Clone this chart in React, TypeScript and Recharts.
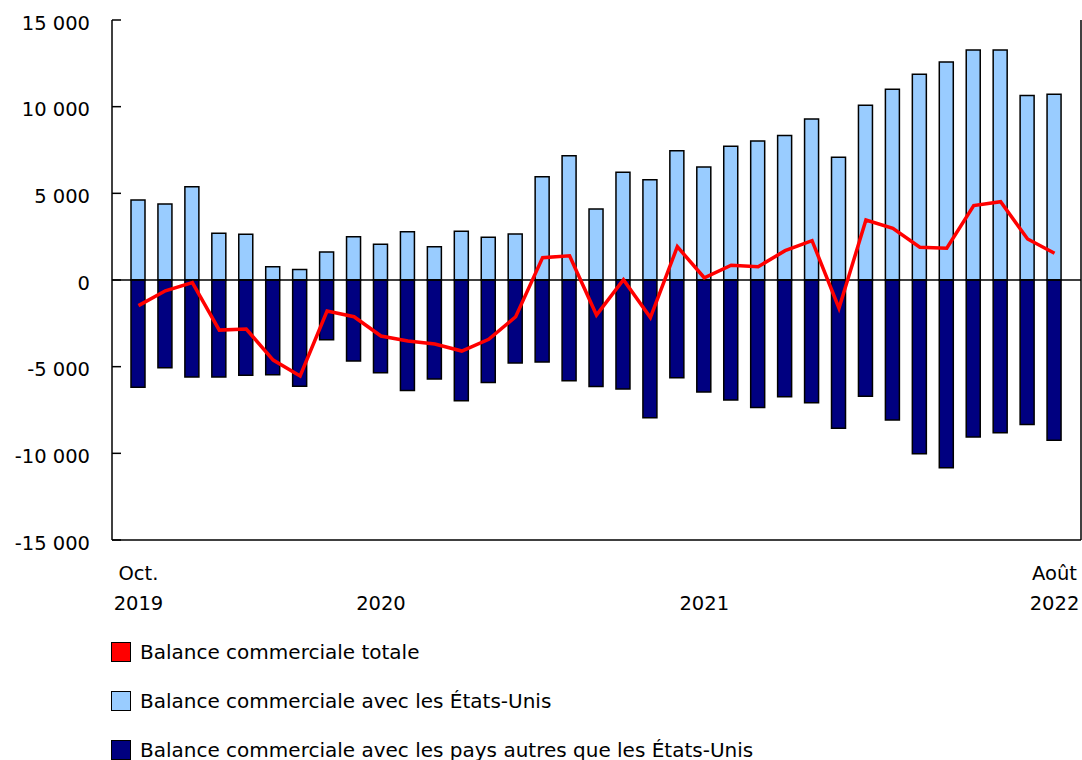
import React from 'react';
import { ComposedChart, Bar, Line, XAxis, YAxis, ReferenceLine, Legend } from 'recharts';

const months = [
  '2019-10', '2019-11', '2019-12',
  '2020-01', '2020-02', '2020-03', '2020-04', '2020-05', '2020-06',
  '2020-07', '2020-08', '2020-09', '2020-10', '2020-11', '2020-12',
  '2021-01', '2021-02', '2021-03', '2021-04', '2021-05', '2021-06',
  '2021-07', '2021-08', '2021-09', '2021-10', '2021-11', '2021-12',
  '2022-01', '2022-02', '2022-03', '2022-04', '2022-05', '2022-06',
  '2022-07', '2022-08',
];

const usBalance = [
  4620, 4390, 5380, 2690, 2640, 770, 600, 1620, 2500, 2060, 2790, 1920,
  2810, 2460, 2650, 5960, 7170, 4100, 6210, 5790, 7460, 6520, 7710, 8020,
  8330, 9290, 7080, 10080, 11000, 11870, 12580, 13270, 13270, 10640, 10710,
];

const otherBalance = [
  -6190, -5060, -5600, -5600, -5500, -5460, -6130, -3440, -4670, -5350, -6370, -5710,
  -6960, -5920, -4790, -4730, -5810, -6150, -6290, -7940, -5640, -6460, -6920, -7350,
  -6730, -7080, -8560, -6710, -8080, -10020, -10830, -9060, -8810, -8330, -9250,
];

const totalBalance = [
  -1480, -620, -150, -2890, -2830, -4620, -5540, -1790, -2120, -3230, -3520, -3690,
  -4100, -3420, -2120, 1290, 1400, -2020, 20, -2170, 1920, 130, 850, 770,
  1690, 2270, -1630, 3460, 2980, 1890, 1830, 4290, 4520, 2370, 1540,
];

const tickMonths = ['2019-10', '2020-07', '2021-07', '2022-08'];
const tickLine1 = ['Oct.', '', '', 'Août'];
const tickLine2 = ['2019', '2020', '2021', '2022'];

const yTicks = [-15000, -10000, -5000, 0, 5000, 10000, 15000];

const legendItems = [
  { label: 'Balance commerciale totale', color: '#ff0000' },
  { label: 'Balance commerciale avec les États-Unis', color: '#99ccff' },
  { label: 'Balance commerciale avec les pays autres que les États-Unis', color: '#000080' },
];

const data = months.map((m, i) => ({
  month: m,
  us: usBalance[i],
  other: otherBalance[i],
  total: totalBalance[i],
}));

const FONT = '"DejaVu Sans", Verdana, sans-serif';
const FS = 19.5;

const fmt = (v: number) => {
  const s = String(Math.abs(v));
  const body = s.length > 3 ? s.slice(0, s.length - 3) + ' ' + s.slice(-3) : s;
  return (v < 0 ? '-' : '') + body;
};

const YTick = ({ x, y, payload }: any) => (
  <g>
    <line x1={x} x2={x + 9} y1={y} y2={y} stroke="#000" strokeWidth={1.5} />
    <text x={x - 22} y={y + 3} dy="0.35em" textAnchor="end" fontSize={FS} fill="#000" fontFamily={FONT}>
      {fmt(payload.value)}
    </text>
  </g>
);

const XTick = ({ x, y, payload }: any) => {
  const k = tickMonths.indexOf(payload.value);
  if (k < 0) return null;
  return (
    <g>
      <text x={x} y={y + 33} dy="0.35em" textAnchor="middle" fontSize={FS} fill="#000" fontFamily={FONT}>
        {tickLine1[k]}
      </text>
      <text x={x} y={y + 63} dy="0.35em" textAnchor="middle" fontSize={FS} fill="#000" fontFamily={FONT}>
        {tickLine2[k]}
      </text>
    </g>
  );
};

const LegendBox = () => (
  <div style={{ height: 140, paddingTop: 7, boxSizing: 'border-box', fontFamily: FONT, fontSize: 20 }}>
    {legendItems.map((it) => (
      <div key={it.label} style={{ height: 49, display: 'flex', alignItems: 'center', whiteSpace: 'nowrap' }}>
        <span style={{ width: 18, height: 18, border: '1.5px solid #000', background: it.color, marginRight: 9, display: 'inline-block' }} />
        <span>{it.label}</span>
      </div>
    ))}
  </div>
);

export default function App() {
  return (
    <div style={{ position: 'absolute', left: 0, top: 0, background: '#fff' }}>
      <ComposedChart
        width={1082}
        height={760}
        data={data}
        stackOffset="sign"
        margin={{ top: 20, right: 0, left: 0, bottom: 0 }}
      >
        <XAxis
          dataKey="month"
          interval={0}
          height={80}
          padding={{ left: 13, right: 13 }}
          tick={<XTick />}
          tickLine={false}
          tickSize={0}
          tickMargin={0}
          axisLine={{ stroke: '#000', strokeWidth: 1.5 }}
        />
        <XAxis
          xAxisId="top"
          dataKey="month"
          orientation="top"
          height={0}
          tick={false}
          tickLine={false}
          axisLine={{ stroke: '#000', strokeWidth: 1.5 }}
        />
        <YAxis
          width={112}
          domain={[-15000, 15000]}
          ticks={yTicks}
          interval={0}
          tick={<YTick />}
          tickLine={false}
          tickSize={0}
          tickMargin={0}
          axisLine={{ stroke: '#000', strokeWidth: 1.5 }}
        />
        <YAxis
          yAxisId="right"
          orientation="right"
          width={1}
          domain={[0, 1]}
          tick={false}
          tickLine={false}
          axisLine={{ stroke: '#000', strokeWidth: 1.5 }}
        />
        <Legend
          verticalAlign="bottom"
          align="left"
          content={<LegendBox />}
          wrapperStyle={{ left: 111, top: 620, width: 900 }}
        />
        <Bar dataKey="us" stackId="a" barSize={14} fill="#99ccff" stroke="#000" strokeWidth={1.5} isAnimationActive={false} />
        <Bar dataKey="other" stackId="a" barSize={14} fill="#000080" stroke="#000" strokeWidth={1.5} isAnimationActive={false} />
        <ReferenceLine y={0} stroke="#000" strokeWidth={1.5} />
        <Line dataKey="total" type="linear" stroke="#ff0000" strokeWidth={3.5} dot={false} isAnimationActive={false} />
      </ComposedChart>
    </div>
  );
}
